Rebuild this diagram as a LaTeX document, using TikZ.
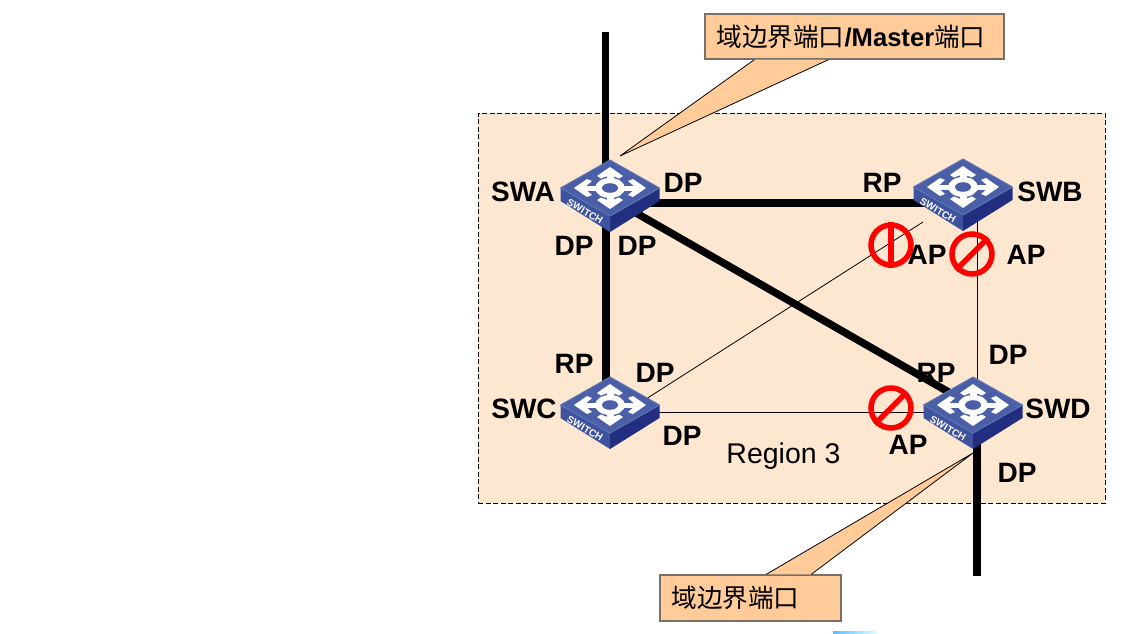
\documentclass[tikz,border=0pt]{standalone}
\usepackage{fontspec}
\setmainfont{Liberation Sans}
\newfontfamily\cjkf{Noto Sans CJK SC}
\definecolor{regionfill}{HTML}{FDE7D0}
\definecolor{calloutfill}{HTML}{FFCC99}
\definecolor{calloutedge}{HTML}{7A6F66}
\definecolor{swtop}{HTML}{4A5FA6}
\definecolor{swrim}{HTML}{5F74B4}
\definecolor{swleft}{HTML}{3E539F}
\definecolor{swright}{HTML}{222F80}
\tikzset{
  lbl/.style={font=\fontsize{28}{28}\selectfont\bfseries,inner sep=0pt,text=black},
  thickline/.style={line width=7.5pt,black},
  thinline/.style={line width=0.8pt,black},
  swnode/.style={minimum width=99pt,minimum height=72pt,inner sep=0pt},
  callout/.style={fill=calloutfill,draw=calloutedge,line width=1.4pt,inner sep=0pt,font=\fontsize{25.6}{25.6}\selectfont},
  tailedge/.style={line width=0.8pt,black},
  nosign/.style={draw=red,line width=5.5pt,circle,minimum size=40pt,inner sep=0pt},
}
\newcommand{\swgraphic}[1]{%
  \begin{scope}[shift={(#1)}]
    \fill[swleft] (-49.5,0)--(0,28)--(0,44)--(-49.5,13)--cycle;
    \fill[swright] (49.5,0)--(0,28)--(0,44)--(49.5,13)--cycle;
    \fill[swtop,draw=swrim,line width=1pt,line join=round] (0,-28)--(49.5,0)--(0,28)--(-49.5,0)--cycle;
    \fill[white] (-3.5,-15)--(3.5,-15)--(3.5,15)--(-3.5,15)--cycle;
    \fill[white] (-28,-2.5)--(28,-2.5)--(28,2.5)--(-28,2.5)--cycle;
    \fill[white] (0,-21)--(13,-12)--(9,-9.5)--(0,-13)--(-9,-9.5)--(-13,-12)--cycle;
    \fill[white] (0,21)--(13,12)--(9,9.5)--(0,13)--(-9,9.5)--(-13,12)--cycle;
    \fill[white] (36,0)--(23,-9)--(18,-7)--(26,0)--(18,7)--(23,9)--cycle;
    \fill[white] (-36,0)--(-23,-9)--(-18,-7)--(-26,0)--(-18,7)--(-23,9)--cycle;
    \fill[white] (0,0) ellipse[x radius=15,y radius=10];
    \fill[swtop] (0,0) ellipse[x radius=8,y radius=4.8];
    \node[text=white,rotate=-30,inner sep=0pt,font=\fontsize{10}{10}\selectfont\bfseries] at (-25,23.5) {SWITCH};
  \end{scope}}
\begin{document}
\begin{tikzpicture}[x=1pt,y=-1pt]
\useasboundingbox (0,0) rectangle (1136,633);
\fill[white] (0,0) rectangle (1136,633);
\fill[black!0,left color=blue!45!cyan!60!white,right color=cyan!15] (833,631.5) rectangle (877,633);
\node[draw=black,dash pattern=on 5pt off 2.5pt,line width=0.7pt,fill=regionfill,minimum width=627pt,minimum height=390pt,inner sep=0pt] (region) at (791.5,308) {};
% invisible switch anchors
\node[swnode] (SWA) at (610,188) {};
\node[swnode] (SWB) at (963,187) {};
\node[swnode] (SWC) at (610,405) {};
\node[swnode] (SWD) at (973,405) {};
\coordinate (topEnd) at (605.5,32);
\coordinate (botEnd) at (977,576);
% connectors
\draw[thickline] ([xshift=-4.5pt]SWA.center) -- (topEnd);
\draw[thickline] ([xshift=-4pt]SWA.center) -- ([xshift=-4pt]SWC.center);
\draw[thickline] ([yshift=-15pt]SWA.center) -- ([yshift=-16pt]SWB.center);
\draw[thickline] ([yshift=-10pt]SWA.center) -- ([yshift=-1pt]SWD.center);
\draw[thinline] ([yshift=-17pt]SWC.center) -- ([xshift=-40pt,yshift=-35pt]SWB.center);
\draw[thinline] ([xshift=14pt]SWB.center) -- ([xshift=4pt]SWD.center);
\draw[thinline] ([yshift=-7pt]SWC.center) -- ([yshift=-7pt]SWD.center);
\draw[thickline] ([xshift=4pt]SWD.center) -- (botEnd);
% switches
\swgraphic{610,188}
\swgraphic{963,187}
\swgraphic{610,405}
\swgraphic{973,405}
% prohibition signs
\node[nosign] (no1) at (891,245) {};
\draw[red,line width=5.5pt] (no1.north) -- (no1.south);
\node[nosign] (no2) at (972,254) {};
\draw[red,line width=5.5pt] (no2.north east) -- (no2.south west);
\node[nosign] (no3) at (891,408) {};
\draw[red,line width=5.5pt] (no3.north east) -- (no3.south west);
% callouts
\coordinate (apexA) at (620,156);
\coordinate (apexD) at (973,453);
\node[callout,minimum width=299pt,minimum height=45pt] (boxA) at (854.5,36.5) {{\cjkf 域边界端口}\textbf{/Master}{\cjkf 端口}\rule{7pt}{0pt}};
\fill[calloutfill] ([xshift=50pt]boxA.south west) -- (apexA) -- ([xshift=124pt]boxA.south west) -- cycle;
\draw[tailedge] ([xshift=50pt]boxA.south west) -- (apexA) -- ([xshift=124pt]boxA.south west);
\node[callout,minimum width=181pt,minimum height=46pt] (boxD) at (750.5,598) {{\cjkf 域边界端口}\rule{30pt}{0pt}};
\fill[calloutfill] ([xshift=107pt]boxD.north west) -- (apexD) -- ([xshift=152pt]boxD.north west) -- cycle;
\draw[tailedge] ([xshift=107pt]boxD.north west) -- (apexD) -- ([xshift=152pt]boxD.north west);
% labels
\node[lbl] (tA) at (523,192) {SWA};
\node[lbl] (tB) at (1050,192) {SWB};
\node[lbl] (tC) at (524,409) {SWC};
\node[lbl] (tD) at (1058,409) {SWD};
\node[lbl] (l1) at (683,183) {DP};
\node[lbl] (l2) at (574,246) {DP};
\node[lbl] (l3) at (637,246) {DP};
\node[lbl] (l4) at (882,183) {RP};
\node[lbl] (l5) at (927,255) {AP};
\node[lbl] (l6) at (1026,255) {AP};
\node[lbl] (l7) at (1008,355) {DP};
\node[lbl] (l8) at (574,364) {RP};
\node[lbl] (l9) at (655,373) {DP};
\node[lbl] (l10) at (936,373) {RP};
\node[lbl] (l11) at (682,436) {DP};
\node[lbl] (l12) at (908,445) {AP};
\node[lbl] (l13) at (1017,473) {DP};
\node[inner sep=0pt,font=\fontsize{28.5}{28.5}\selectfont] (rname) at (783.5,456) {Region 3};
\end{tikzpicture}
\end{document}
